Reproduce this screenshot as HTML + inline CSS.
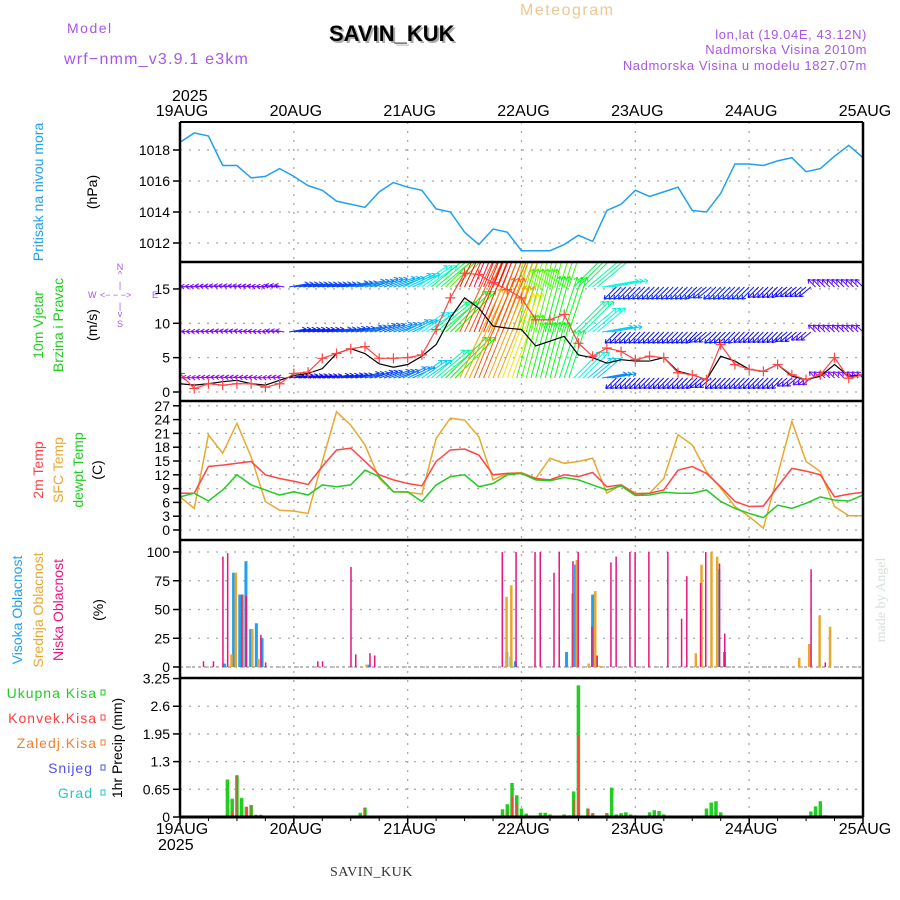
<!DOCTYPE html>
<html><head><meta charset="utf-8"><style>
body{margin:0;background:#fff}
svg{display:block;font-family:"Liberation Sans",sans-serif}
</style></head><body>
<svg id="c" width="900" height="900" viewBox="0 0 900 900" xmlns="http://www.w3.org/2000/svg">
<text x="520" y="15" font-size="16" fill="#ecc890" letter-spacing="1.5">Meteogram</text>
<text x="67" y="33" font-size="14" fill="#a855e8" letter-spacing="1.5">Model</text>
<text x="64" y="64" font-size="16" fill="#a855e8" letter-spacing="1.2">wrf−nmm_v3.9.1 e3km</text>
<text x="331" y="43" font-size="22" font-weight="bold" fill="#aaa">SAVIN_KUK</text>
<text x="329" y="41" font-size="22" font-weight="bold" fill="#000">SAVIN_KUK</text>
<text x="867" y="39" font-size="13" fill="#a855e8" text-anchor="end" letter-spacing="0.6">lon,lat (19.04E, 43.12N)</text>
<text x="867" y="54" font-size="13" fill="#a855e8" text-anchor="end" letter-spacing="0.6">Nadmorska Visina 2010m</text>
<text x="867" y="70" font-size="13" fill="#a855e8" text-anchor="end" letter-spacing="0.6">Nadmorska Visina u modelu 1827.07m</text>
<text x="172" y="101" font-size="16" fill="#000">2025</text>
<text x="158" y="850" font-size="16" fill="#000">2025</text>
<text x="330" y="876" font-size="14" font-family="Liberation Serif,serif" fill="#333" letter-spacing="0.5">SAVIN_KUK</text>
<g font-size="14">
<text transform="translate(43,192) rotate(-90)" text-anchor="middle" fill="#20a0f0">Pritisak na nivou mora</text>
<text transform="translate(97,192) rotate(-90)" text-anchor="middle" fill="#000">(hPa)</text>
<text transform="translate(43,325) rotate(-90)" text-anchor="middle" fill="#22cc22">10m Vjetar</text>
<text transform="translate(63,325) rotate(-90)" text-anchor="middle" fill="#22cc22">Brzina i Pravac</text>
<text transform="translate(97,325) rotate(-90)" text-anchor="middle" fill="#000">(m/s)</text>
<text transform="translate(43,470) rotate(-90)" text-anchor="middle" fill="#ff4040">2m Temp</text>
<text transform="translate(63,470) rotate(-90)" text-anchor="middle" fill="#e8a830">SFC Temp</text>
<text transform="translate(83,470) rotate(-90)" text-anchor="middle" fill="#22cc22">dewpt Temp</text>
<text transform="translate(102,470) rotate(-90)" text-anchor="middle" fill="#000">(C)</text>
<text transform="translate(22,610) rotate(-90)" text-anchor="middle" fill="#20a0f0">Visoka Oblacnost</text>
<text transform="translate(43,610) rotate(-90)" text-anchor="middle" fill="#e8a830">Srednja Oblacnost</text>
<text transform="translate(63,610) rotate(-90)" text-anchor="middle" fill="#e8147f">Niska Oblacnost</text>
<text transform="translate(103,610) rotate(-90)" text-anchor="middle" fill="#000">(%)</text>
<text transform="translate(122,748) rotate(-90)" text-anchor="middle" fill="#000">1hr Precip (mm)</text>
<text transform="translate(885,600) rotate(-90)" text-anchor="middle" fill="#d8e0d8" font-family="Liberation Serif,serif">made by Angel</text>
</g>
<g font-size="14" text-anchor="end" letter-spacing="1">
<text x="97" y="698" fill="#22cc22">Ukupna Kisa</text>
<text x="97" y="723" fill="#ff4040">Konvek.Kisa</text>
<text x="97" y="748" fill="#f08030">Zaledj.Kisa</text>
<text x="93" y="773" fill="#5050f0">Snijeg</text>
<text x="93" y="798" fill="#20c8c8">Grad</text>
</g>
<g stroke-width="1" fill="none">
<rect x="101" y="690" width="4" height="5" stroke="#22cc22"/><rect x="101" y="715" width="4" height="5" stroke="#ff4040"/><rect x="101" y="740" width="4" height="5" stroke="#f08030"/><rect x="101" y="765" width="4" height="5" stroke="#5050f0"/><rect x="101" y="790" width="4" height="5" stroke="#20c8c8"/>
</g>
<g fill="#a855e8" font-size="9">
<text x="120" y="270" text-anchor="middle">N</text><text x="120" y="277" text-anchor="middle">^</text>
<text x="120" y="288" text-anchor="middle">|</text>
<text x="88" y="298">W</text><text x="100" y="298">&lt;− − −&gt;</text><text x="152" y="298">E</text>
<text x="120" y="309" text-anchor="middle">|</text>
<text x="120" y="317" text-anchor="middle">v</text><text x="120" y="327" text-anchor="middle">S</text>
</g>
<g id="plot"></g>
</svg>
<script>
// ---- data (3-hourly, 49 points, 19AUG 00 -> 25AUG 00) ----
const dayLabels = ["19AUG","20AUG","21AUG","22AUG","23AUG","24AUG","25AUG"];
const pressure = [1018.5,1019.1,1018.9,1017.0,1017.0,1016.2,1016.3,1016.8,1016.3,1015.7,1015.4,1014.7,1014.5,1014.3,1015.3,1015.9,
1015.6,1015.4,1014.2,1014.0,1012.7,1011.9,1012.9,1012.7,1011.5,1011.5,1011.5,1011.9,1012.5,1012.1,1014.1,1014.5,1015.4,1015.0,1015.3,1015.6,1014.1,1014.0,1015.2,1017.1,1017.1,1017.0,1017.3,1017.5,1016.6,1016.8,1017.6,1018.3,1017.5];
const windSpeed = [1.2,1.0,1.2,1.5,1.7,1.2,1.0,1.7,2.4,2.7,3.4,5.6,6.3,5.6,4.1,3.6,4.0,5.2,6.9,10.8,13.7,12.2,9.6,9.3,9.1,6.7,7.4,8.1,5.4,5.0,4.2,4.7,4.5,4.5,5.0,3.0,2.5,1.8,5.2,4.5,3.3,3.0,4.0,2.3,1.8,2.3,4.0,2.3,2.5];
const gustSpeed = [2.7,0.5,1.2,1.0,1.2,1.2,0.7,1.2,2.7,2.9,4.9,5.6,6.3,6.6,4.9,4.9,5.0,5.4,9.1,13.7,17.3,17.1,15.9,14.9,13.7,10.5,10.5,11.3,7.1,5.2,6.4,5.9,4.7,5.2,5.0,2.8,2.5,1.8,6.9,4.0,3.3,3.0,4.0,2.5,1.8,2.5,5.0,2.0,2.5];
const windDir = [275,275,278,280,280,278,275,280,80,80,80,80,78,75,70,70,65,55,50,45,25,22,22,20,15,15,15,18,45,50,80,225,225,225,225,225,225,230,225,225,225,225,225,230,230,315,315,315,315];
const windUpper = [2.5,2.5,2.5,2.5,2.5,2.5,2.5,2.8,5,5,5,5,5.5,6,6,6.5,7,8,10,12,18,19,18,17,13,13,12,12,10,9,8,4.5,4.5,4.5,4.5,4.5,4.5,4.5,4.5,4.5,4.5,4,4,4,4,3,3,3,3];
const windMid = [2.2,2.2,2.2,2.2,2.2,2.2,2.2,2.5,4.5,4.5,4.5,5,5,5.5,5.5,6,6.5,7.5,9.5,11,17,18,17,16,12,12,11,11,9,8,7,4.2,4.2,4.2,4.2,4.2,4.2,4.2,4.2,4.2,4,4,4,4,3.5,2.8,2.8,2.8,2.8];
const windLow = [2,2,2,2,2,2,2,2,4,4,4,4.5,4.5,5,5,5.5,6,7,9,11,16,17,16,15,12,11,11,10,8,7,6,4,4,4,4,4,4,4,4,4,4,4,4,3.5,3,2.5,2.5,2.5,2.5];
const temp2m = [8.0,8.0,13.8,14.1,14.5,14.9,12.0,11.2,10.6,9.9,13.8,17.4,17.8,14.9,12.0,10.9,10.1,9.6,14.9,17.4,17.6,16.3,12.0,12.3,
12.3,11.2,10.9,12.0,11.6,12.5,9.4,9.8,7.8,8.0,8.7,13.0,13.8,12.3,9.4,6.2,5.1,5.2,9.4,13.4,12.8,12.0,7.2,7.8,8.2];
const tempSfc = [7.2,4.7,20.7,16.7,23.2,15.9,6.2,4.3,4.1,3.6,14.9,25.7,22.8,18.5,11.2,8.3,8.2,7.8,19.9,24.3,23.9,20.3,10.9,12.3,
12.5,11.2,15.6,14.5,14.9,15.6,8.0,9.8,8.0,8.0,11.2,20.7,18.5,12.7,9.1,5.1,2.9,0.4,12.0,23.6,14.9,12.7,5.1,3.1,3.1];
const dewpt = [7.2,8.0,6.3,8.7,12.0,9.8,8.7,7.6,8.3,7.6,9.8,9.4,9.8,13.0,11.6,8.3,8.3,6.2,9.8,11.6,12.0,9.4,10.1,12.0,
12.3,10.9,10.7,11.4,10.9,9.8,8.7,9.6,7.5,7.6,8.2,8.0,8.0,8.7,6.2,4.7,3.6,2.7,5.4,4.7,5.8,7.2,6.5,6.3,7.6];
// cloud events (hour from 19AUG 00, percent)
const lowCloudHours = [4.9,7,9,10,13,13.9,17,18,29,30,36,37,40,41,67.9,70.8,74.8,75.9,78.8,79.9,82.8,83.9,86.8,87.9,90.8,91.9,94.8,95.9,98.8,102.8,105.7,106.8,109.7,110.8,113.7,114.8,133,136];
const lowCloudVals = [5,5,96,99,63,62,28,4,5,5,87,11,12,10,100,100,100,100,82,100,92,100,35,10,91,96,100,100,100,100,42,79,73,100,90,29,85,4];
const midCloudHours = [10.8,11.7,13.2,15.2,16.5,39.3,68.8,69.8,82.7,83.6,86.1,87.5,88.4,108.7,109.9,112,113.2,130.5,132.6,134.8,137];
const midCloudVals = [11,82,63,33,7,2,61,71,64,93,3,66,1,12,89,100,96,8,20,45,35];
const highCloudHours = [9.4,11.3,12.6,13.9,14.9,16.1,17.3,39.6,68.9,69.8,70.7,81.5,83.4,87,113.6,114.8];
const highCloudVals = [3,82,63,92,33,38,25,2,13,9,5,13,89,63,85,13];
// precipitation (hour, mm)
const precipHours = [10,11,12,13,14,15,16,17,38,39,68,69,70,71,72,73,76,77,78,81,82,83,84,85,86,87,90,91,92,93,94,95,98,99,100,101,102,111,112,113,114,133,134,135,136];
const precipTotal = [0.88,0.43,0.98,0.45,0.24,0.28,0.05,0.05,0.1,0.22,0.18,0.3,0.8,0.51,0.2,0.08,0.1,0.1,0.06,0.06,0.04,0.6,3.09,0.02,0.2,0.09,0.09,0.69,0.06,0.09,0.11,0.06,0.03,0.11,0.16,0.14,0.06,0.2,0.34,0.37,0.11,0.13,0.25,0.37,0.04];
const precipConv = [0,0.13,0.98,0,0.24,0.28,0.05,0.05,0,0.22,0,0.15,0.49,0.3,0,0,0,0,0,0,0,0.41,1.91,0.02,0.2,0.09,0.09,0,0,0,0,0,0,0,0,0,0,0.03,0,0.03,0,0,0.02,0.03,0];
const pTicks=[1012,1014,1016,1018], wTicks=[0,5,10,15], tTicks=[0,3,6,9,12,15,18,21,24,27], cTicks=[0,25,50,75,100], prTicks=[0,0.65,1.3,1.95,2.6,3.25];
const prTickLabels=["0","0.65","1.3","1.95","2.6","3.25"];

// ---- axes ----
const X0=180, X1=863, HOURS=144;
const xH = h => X0 + (X1-X0)*h/HOURS;
const xI = i => xH(i*3);
const yP = p => 150 - (p-1018)*15.5;
const yW = v => 392 - v*6.87;
const yT = t => 530 - t*4.6;
const yC = c => 667 - c*1.15;
const yR = r => 817 - r*42.6;
const panels=[[122,262],[262,401],[401,540],[540,678],[678,817]];

const NS="http://www.w3.org/2000/svg";
const g=document.getElementById('plot');
function el(tag, attrs, parent){const e=document.createElementNS(NS,tag);for(const k in attrs)e.setAttribute(k,attrs[k]);(parent||g).appendChild(e);return e;}

const defs=el('defs',{});
panels.forEach((p,k)=>{const cp=el('clipPath',{id:'cp'+k},defs);el('rect',{x:X0,y:p[0],width:X1-X0,height:p[1]-p[0]},cp);});

// grid
const grid=el('g',{stroke:'#aaa','stroke-width':1.3,'stroke-dasharray':'2,7'});


for(let d=1;d<6;d++){const x=xH(d*24);el('line',{x1:x,x2:x,y1:122,y2:817},grid);}
function hgrid(ticks,fy){ticks.forEach(t=>{const y=fy(t);el('line',{x1:X0,x2:X1,y1:y,y2:y},grid);});}
hgrid(pTicks,yP);hgrid(wTicks,yW);hgrid(tTicks,yT);hgrid(cTicks,yC);hgrid(prTicks,yR);

function ylabels(ticks,fy,labels,name){const gg=el('g',{'font-size':14,'text-anchor':'end',fill:'#000'});


ticks.forEach((t,i)=>{const y=fy(t);const tx=el('text',{x:170,y:y+5},gg);tx.textContent=labels?labels[i]:String(t);el('line',{x1:173,x2:180,y1:y,y2:y,stroke:'#000','stroke-width':1.5},gg);});}
ylabels(pTicks,yP,null,'pressure-axis');ylabels(wTicks,yW,null,'wind-axis');ylabels(tTicks,yT,null,'temp-axis');ylabels(cTicks,yC,null,'cloud-axis');
ylabels(prTicks,yR,prTickLabels,'precip-axis');
const xl=el('g',{'font-size':16,'text-anchor':'middle',fill:'#000'});


dayLabels.forEach((d,i)=>{const x=xH(i*24);let t=el('text',{x:x+2,y:116},xl);t.textContent=d;t=el('text',{x:x+2,y:834},xl);t.textContent=d;
el('line',{x1:x,x2:x,y1:817,y2:824,stroke:'#000','stroke-width':1.5},xl);});
for(let h=6;h<HOURS;h+=6){const x=xH(h);el('line',{x1:x,x2:x,y1:817,y2:821,stroke:'#000'},xl);}

// pressure line
const pl=el('polyline',{points:pressure.map((p,i)=>xI(i)+','+yP(p)).join(' '),fill:'none',stroke:'#1fa0f0','stroke-width':1.5,'clip-path':'url(#cp0)'});



// wind arrows
function hueFor(s){let h=310-17*s;if(h<0)h+=360;return 'hsl('+h+',95%,50%)';}
const wg=el('g',{'clip-path':'url(#cp1)','stroke-width':1,fill:'none'});


const rows=[[windUpper,287],[windMid,332],[windLow,378]];
rows.forEach(([spd,y0])=>{
  for(let i=0;i<49;i++){
    for(let k=-1;k<=1;k++){
      const h=i*3+k; if(h<0||h>HOURS) continue;
      const x=xH(h), s=spd[i], a=windDir[i]*Math.PI/180, L=1.5*Math.pow(s,1.5)+3;
      const dx=Math.sin(a)*L, dy=-Math.cos(a)*L;
      const x2=x+dx, y2=y0+dy, c=hueFor(s);
      const ux=dx/L, uy=dy/L;
      const hx=-ux*4, hy=-uy*4;
      const ar=el('path',{d:`M${x},${y0}L${x2},${y2}M${x2},${y2}l${hx*0.9-hy*0.6},${hy*0.9+hx*0.6}M${x2},${y2}l${hx*0.9+hy*0.6},${hy*0.9-hx*0.6}`,stroke:c},wg);
      
      
    }
  }
});
const ws=el('polyline',{points:windSpeed.map((v,i)=>xI(i)+','+yW(v)).join(' '),fill:'none',stroke:'#000','stroke-width':1.2,'clip-path':'url(#cp1)'});


const gs=el('polyline',{points:gustSpeed.map((v,i)=>xI(i)+','+yW(v)).join(' '),fill:'none',stroke:'#ff4545','stroke-width':1.2,'clip-path':'url(#cp1)'});


const gm=el('g',{stroke:'#ff4545','stroke-width':1.2,'clip-path':'url(#cp1)'});


gustSpeed.forEach((v,i)=>{const x=xI(i),y=yW(v);el('path',{d:`M${x-5},${y}h10M${x},${y-5}v10`},gm);});

// temperature
[[tempSfc,'#e8a830','sfc-temp-line'],[temp2m,'#ff4545','temp-2m-line'],[dewpt,'#22cc22','dewpoint-line']].forEach(([arr,c,n])=>{
  const l=el('polyline',{points:arr.map((v,i)=>xI(i)+','+yT(v)).join(' '),fill:'none',stroke:c,'stroke-width':1.5,'clip-path':'url(#cp2)'});
  
  
});

// cloud bars
const cb=el('g',{'clip-path':'url(#cp3)'});


el('line',{x1:X0,x2:X1,y1:yC(0),y2:yC(0),stroke:'#bbb','stroke-width':2,'stroke-dasharray':'3,3'},cb);
function bars(hours,vals,col,w,off,fy,name,parent){hours.forEach((h,i)=>{const y=fy(vals[i]);const r=el('rect',{x:xH(h)+off,y:y,width:w,height:fy(0)-y,fill:col},parent);

});}
bars(highCloudHours,highCloudVals,'#1fa0f0',3,-1.5,yC,'high-cloud-bar',cb);
bars(midCloudHours,midCloudVals,'#e8a830',2.5,-1,yC,'mid-cloud-bar',cb);
bars(lowCloudHours,lowCloudVals,'#e8147f',1.5,-0.5,yC,'low-cloud-bar',cb);

// precip bars
const pb=el('g',{'clip-path':'url(#cp4)'});


bars(precipHours,precipTotal,'#22cc22',3.5,-1.75,yR,'total-precip-bar',pb);
bars(precipHours,precipConv,'#ff4040',1.5,-0.5,yR,'convective-precip-bar',pb);

// frames
const fr=el('g',{stroke:'#000',fill:'none'});


el('line',{x1:X0,x2:X1,y1:122,y2:122,'stroke-width':2},fr);
[262,401,540,678].forEach(y=>el('line',{x1:X0,x2:X1,y1:y,y2:y,'stroke-width':2.5},fr));
el('line',{x1:X0,x2:X1,y1:817,y2:817,'stroke-width':3},fr);
el('line',{x1:X0,x2:X0,y1:122,y2:817,'stroke-width':2.5},fr);
el('line',{x1:X1,x2:X1,y1:122,y2:817,'stroke-width':2.5},fr);
</script>
</body></html>
